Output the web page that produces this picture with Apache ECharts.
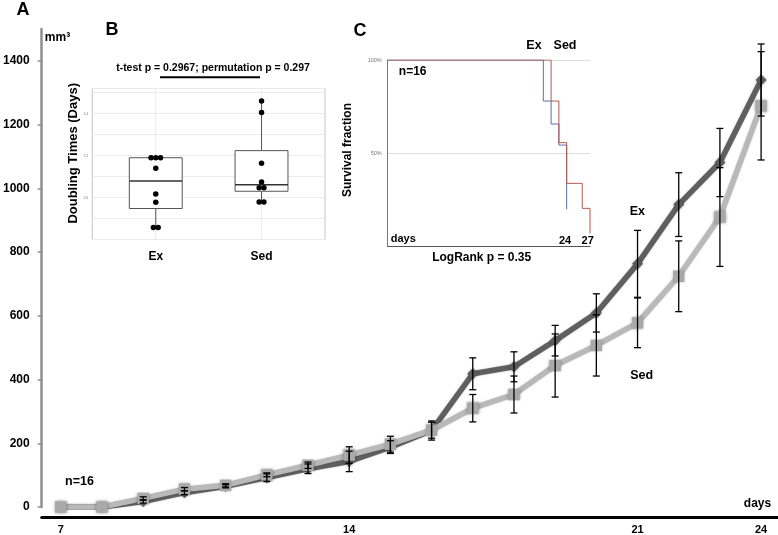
<!DOCTYPE html>
<html>
<head>
<meta charset="utf-8">
<script src="https://cdn.jsdelivr.net/npm/echarts@6/dist/echarts.min.js"></script>
<style>
html,body{margin:0;padding:0;background:#fff;}
#chart{width:778px;height:535px;}
</style>
</head>
<body>
<div id="chart"></div>
<script>
// ---------- Panel A: tumour volume (mm³) by day ----------
const days = [7, 8, 9, 10, 11, 12, 13, 14, 15, 16, 17, 18, 19, 20, 21, 22, 23, 24];
const exMean = [0, 0, 17, 45, 65, 92, 120, 143, 188, 240, 418, 440, 522, 609, 763, 949, 1081, 1340];
const exErr  = [0, 0, 5, 6, 5, 12, 15, 32, 20, 30, 50, 47, 48, 60, 105, 100, 107, 113];
const sedMean = [0, 0, 27, 56, 68, 101, 131, 163, 197, 241, 310, 353, 444, 507, 578, 724, 910, 1259];
const sedErr  = [0, 0, 5, 5, 5, 6, 10, 26, 25, 25, 43, 58, 99, 96, 78, 111, 155, 170];
const yTicksMain = [0, 200, 400, 600, 800, 1000, 1200, 1400];
const xTicksMain = [7, 14, 21, 24];

// ---------- Panel B: doubling times ----------
const boxCats = ['Ex', 'Sed'];
const doublingEx  = [2.19, 2.19, 2.19, 2.14, 2.017, 1.978, 1.857, 1.857];
const doublingSed = [2.46, 2.406, 2.163, 2.074, 2.047, 2.047, 1.979, 1.979];
const yTicksB = [2.0, 2.2, 2.4];

// ---------- Panel C: survival ----------
const survDaysEx  = [1, 21, 22, 23, 24];
const survEx      = [1, 0.78, 0.657, 0.544, 0.2];
const survDaysSed = [1, 22, 23, 24, 26, 27];
const survSed     = [1, 0.78, 0.557, 0.339, 0.205, 0.07];
const yTicksC = [0.5, 1];

// ---------- helpers ----------
function quantile7(sorted, p) {
  const pos = (sorted.length - 1) * p;
  const lo = Math.floor(pos), hi = Math.ceil(pos);
  return sorted[lo] + (sorted[hi] - sorted[lo]) * (pos - lo);
}
function boxStats(arr, xIndex) {
  const s = arr.slice().sort((a, b) => a - b);
  const q1 = quantile7(s, 0.25), med = quantile7(s, 0.5), q3 = quantile7(s, 0.75);
  const iqr = q3 - q1;
  const lowF = q1 - 1.5 * iqr, highF = q3 + 1.5 * iqr;
  const wMin = Math.min(...s.filter(v => v >= lowF));
  const wMax = Math.max(...s.filter(v => v <= highF));
  return [xIndex, wMin, q1, med, q3, wMax];
}
function dotPoints(arr, xIndex) {
  const groups = {};
  arr.forEach(v => { groups[v] = (groups[v] || 0) + 1; });
  const seen = {};
  return arr.map(v => {
    const n = groups[v];
    const k = seen[v] || 0;
    seen[v] = k + 1;
    return [xIndex + (k - (n - 1) / 2) * 0.045, v];
  });
}

const exErrData = days.map((d, i) => [d, exMean[i] - exErr[i], exMean[i] + exErr[i]]);
const sedErrData = days.map((d, i) => [d, sedMean[i] - sedErr[i], sedMean[i] + sedErr[i]]);

const FONT = 'Liberation Sans, Arial, Helvetica, sans-serif';

function txt(text, x, y, size, extra) {
  return Object.assign({
    type: 'text', x: x, y: y, silent: true,
    style: { text: text, fill: '#000', font: 'bold ' + size + 'px ' + FONT, align: 'center', verticalAlign: 'middle' }
  }, extra || {});
}

const chart = echarts.init(document.getElementById('chart'), null, { renderer: 'canvas' });

const option = {
  animation: false,
  backgroundColor: '#fff',
  textStyle: { fontFamily: FONT },
  grid: [
    { left: 39.5, right: 0, top: 29, bottom: 27.2 },
    { left: 92.3, width: 232.7, top: 88.5, height: 151, show: true, borderColor: '#c4c4c4', borderWidth: 1, backgroundColor: '#fff' },
    { left: 387.7, width: 202.3, top: 60, height: 186.6 }
  ],
  xAxis: [
    {
      gridIndex: 0, type: 'value', min: 6.535, max: 24.41, offset: 10, position: 'bottom',
      axisLine: { show: true, onZero: false, lineStyle: { color: '#000', width: 3 } },
      axisTick: { show: false }, splitLine: { show: false },
      axisLabel: { customValues: xTicksMain, formatter: v => String(v), color: '#000', fontWeight: 'bold', fontSize: 11, margin: 7 }
    },
    {
      gridIndex: 1, type: 'value', min: 0.4, max: 2.6,
      axisLine: { show: false, onZero: false }, axisTick: { show: false }, splitLine: { show: false },
      axisLabel: { customValues: [1, 2], formatter: v => boxCats[Math.round(v) - 1], color: '#000', fontWeight: 'bold', fontSize: 12, margin: 11 }
    },
    {
      gridIndex: 2, type: 'value', min: 1, max: 27,
      axisLine: { show: true, onZero: false, lineStyle: { color: '#555', width: 1 } },
      axisTick: { show: false }, splitLine: { show: false }, axisLabel: { show: false }
    }
  ],
  yAxis: [
    {
      gridIndex: 0, type: 'value', min: 0, max: 1500,
      axisLine: { show: true, onZero: false, lineStyle: { color: '#8f8f8f', width: 2.5 } },
      axisTick: { show: true, customValues: yTicksMain, length: 4, lineStyle: { color: '#8f8f8f', width: 1.5 } },
      splitLine: { show: false },
      axisLabel: { customValues: yTicksMain, formatter: v => String(v), color: '#000', fontWeight: 'bold', fontSize: 12, margin: 12 }
    },
    {
      gridIndex: 1, type: 'value', min: 1.8, max: 2.52, interval: 0.1,
      axisLine: { show: false, onZero: false }, axisTick: { show: false },
      splitLine: { show: true, lineStyle: { color: '#ebebeb', width: 1 } },
      axisLabel: { customValues: yTicksB, formatter: v => v.toFixed(1), color: '#777', fontSize: 3.5, margin: 4 }
    },
    {
      gridIndex: 2, type: 'value', min: 0, max: 1, interval: 0.5,
      axisLine: { show: true, onZero: false, lineStyle: { color: '#777', width: 1 } },
      axisTick: { show: false },
      splitLine: { show: true, lineStyle: { color: '#dcdcdc', width: 1 } },
      axisLabel: { customValues: yTicksC, formatter: v => Math.round(v * 100) + '%', color: '#777', fontSize: 5.5, margin: 6 }
    }
  ],
  series: [
    {
      name: 'Ex', type: 'line', xAxisIndex: 0, yAxisIndex: 0, z: 2,
      data: days.map((d, i) => [d, exMean[i]]),
      symbol: 'diamond', symbolSize: 11,
      itemStyle: { color: '#5c5c5c', shadowBlur: 3, shadowColor: 'rgba(0,0,0,0.35)' },
      lineStyle: { color: '#5f5f5f', width: 5.5, shadowBlur: 2, shadowColor: 'rgba(0,0,0,0.25)' }
    },
    {
      name: 'Sed', type: 'line', xAxisIndex: 0, yAxisIndex: 0, z: 3,
      data: days.map((d, i) => [d, sedMean[i]]),
      symbol: 'rect', symbolSize: 11.5,
      itemStyle: { color: '#a9a9a9', shadowBlur: 3, shadowColor: 'rgba(0,0,0,0.35)' },
      lineStyle: { color: '#b9b9b9', width: 5.5, shadowBlur: 2, shadowColor: 'rgba(0,0,0,0.2)' }
    },
    {
      name: 'errors', type: 'custom', xAxisIndex: 0, yAxisIndex: 0, z: 4,
      data: exErrData.concat(sedErrData),
      encode: { x: 0, y: [1, 2] },
      renderItem: function (params, api) {
        const x = api.value(0), lo = api.value(1), hi = api.value(2);
        if (hi - lo <= 0) return null;
        const a = api.coord([x, lo]), b = api.coord([x, hi]);
        const w = 3.5;
        const st = { stroke: '#000', lineWidth: 1.3 };
        return {
          type: 'group', children: [
            { type: 'line', shape: { x1: a[0], y1: a[1], x2: b[0], y2: b[1] }, style: st },
            { type: 'line', shape: { x1: a[0] - w, y1: a[1], x2: a[0] + w, y2: a[1] }, style: st },
            { type: 'line', shape: { x1: b[0] - w, y1: b[1], x2: b[0] + w, y2: b[1] }, style: st }
          ]
        };
      }
    },
    {
      name: 'vgrid', type: 'custom', xAxisIndex: 1, yAxisIndex: 1, z: 1,
      data: [[1], [2]],
      encode: { x: 0 },
      renderItem: function (params, api) {
        const x = api.value(0);
        const a = api.coord([x, 1.8]), b = api.coord([x, 2.52]);
        return { type: 'line', shape: { x1: a[0], y1: a[1], x2: b[0], y2: b[1] }, style: { stroke: '#ebebeb', lineWidth: 1 } };
      }
    },
    {
      name: 'box', type: 'custom', xAxisIndex: 1, yAxisIndex: 1, z: 2,
      data: [boxStats(doublingEx, 1), boxStats(doublingSed, 2)],
      encode: { x: 0, y: [1, 2, 3, 4, 5] },
      renderItem: function (params, api) {
        const x = api.value(0);
        const mn = api.value(1), q1 = api.value(2), md = api.value(3), q3 = api.value(4), mx = api.value(5);
        const tl = api.coord([x - 0.25, q3]), br = api.coord([x + 0.25, q1]);
        const m1 = api.coord([x - 0.25, md]), m2 = api.coord([x + 0.25, md]);
        const c = api.coord([x, q3]), cMax = api.coord([x, mx]);
        const c1 = api.coord([x, q1]), cMin = api.coord([x, mn]);
        const st = { stroke: '#555', lineWidth: 1 };
        return {
          type: 'group', children: [
            { type: 'line', shape: { x1: c[0], y1: c[1], x2: cMax[0], y2: cMax[1] }, style: st },
            { type: 'line', shape: { x1: c1[0], y1: c1[1], x2: cMin[0], y2: cMin[1] }, style: st },
            { type: 'rect', shape: { x: tl[0], y: tl[1], width: br[0] - tl[0], height: br[1] - tl[1] }, style: { fill: '#fff', stroke: '#555', lineWidth: 1 } },
            { type: 'line', shape: { x1: m1[0], y1: m1[1], x2: m2[0], y2: m2[1] }, style: { stroke: '#333', lineWidth: 1.5 } }
          ]
        };
      }
    },
    {
      name: 'dots', type: 'scatter', xAxisIndex: 1, yAxisIndex: 1, z: 3,
      data: dotPoints(doublingEx, 1).concat(dotPoints(doublingSed, 2)),
      symbolSize: 5.5, itemStyle: { color: '#000', opacity: 1 }
    },
    {
      name: 'Ex survival', type: 'line', xAxisIndex: 2, yAxisIndex: 2, z: 2,
      step: 'end', symbol: 'none',
      data: survDaysEx.map((d, i) => [d, survEx[i]]),
      lineStyle: { color: '#5c70a6', width: 1 }
    },
    {
      name: 'Sed survival', type: 'line', xAxisIndex: 2, yAxisIndex: 2, z: 3,
      step: 'end', symbol: 'none',
      data: survDaysSed.map((d, i) => [d, survSed[i]]),
      lineStyle: { color: '#b3574f', width: 1 }
    }
  ],
  graphic: [
    txt('A', 23, 10.5, 18),
    txt('B', 112, 30.5, 18),
    txt('C', 360, 31.5, 18),
    txt('mm³', 57.5, 38, 12),
    txt('n=16', 79.5, 482, 12.5),
    txt('days', 757.5, 504, 12),
    txt('Ex', 637.3, 211.7, 12.5),
    txt('Sed', 641.7, 376, 12.5),
    txt('t-test p = 0.2967; permutation p = 0.297', 213, 68.3, 10.5),
    { type: 'line', silent: true, shape: { x1: 160, y1: 77.3, x2: 260, y2: 77.3 }, style: { stroke: '#000', lineWidth: 2 } },
    txt('Doubling Times (Days)', 73.3, 153.3, 13, { rotation: Math.PI / 2 }),
    txt('Survival fraction', 348, 150, 12, { rotation: Math.PI / 2 }),
    txt('n=16', 412.7, 71.7, 12),
    txt('Ex', 534, 46, 12.5),
    txt('Sed', 565, 46, 12.5),
    txt('days', 403.3, 239, 11),
    txt('24', 565, 241, 11),
    txt('27', 587.7, 241, 11),
    txt('LogRank p = 0.35', 481.7, 257.7, 12)
  ]
};

chart.setOption(option);
</script>
</body>
</html>
